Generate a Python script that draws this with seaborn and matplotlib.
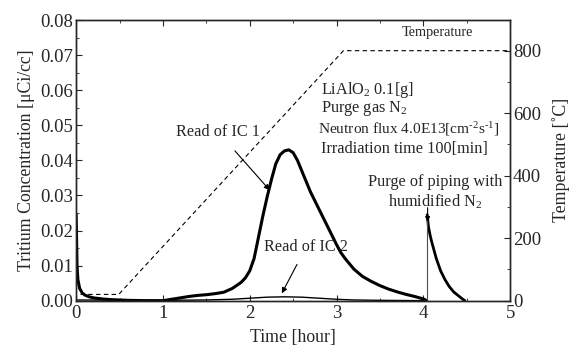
import numpy as np
import pandas as pd
import matplotlib
matplotlib.use("Agg")
import matplotlib.pyplot as plt
import seaborn as sns

# Values
ic1_time = [0.0, 0.01, 0.02, 0.04, 0.07, 0.1, 0.15, 0.2, 0.3, 0.4, 0.5, 0.6, 0.8, 1.0,
            1.1, 1.2, 1.3, 1.4, 1.5, 1.6, 1.7, 1.8, 1.9, 1.95, 2.0, 2.05, 2.1, 2.15,
            2.2, 2.25, 2.3, 2.35, 2.4, 2.45, 2.5, 2.55, 2.6, 2.65, 2.7, 2.75, 2.8,
            2.85, 2.9, 2.95, 3.0, 3.05, 3.1, 3.15, 3.2, 3.3, 3.4, 3.5, 3.6, 3.7,
            3.8, 3.9, 4.0, 4.04]
ic1_conc = [0.0245, 0.010, 0.006, 0.0035, 0.0022, 0.0016, 0.0011, 0.0008, 0.0005,
            0.0003, 0.0002, 0.0001, 0.0, 0.0, 0.0004, 0.0008, 0.0012, 0.0015,
            0.0017, 0.0020, 0.0024, 0.0035, 0.0052, 0.0065, 0.0085, 0.012, 0.018,
            0.024, 0.0295, 0.0345, 0.0390, 0.0416, 0.0427, 0.0430, 0.0422, 0.0400,
            0.0370, 0.0340, 0.0310, 0.0285, 0.0260, 0.0235, 0.0210, 0.0185, 0.0160,
            0.0137, 0.0120, 0.0105, 0.0090, 0.0069, 0.0055, 0.0043, 0.0033, 0.0025,
            0.0018, 0.0012, 0.0005, 0.0]

purge_time = [4.045, 4.06, 4.08, 4.1, 4.15, 4.2, 4.25, 4.3, 4.35, 4.4, 4.45, 4.48]
purge_conc = [0.0245, 0.021, 0.0185, 0.0165, 0.0120, 0.0085, 0.0060, 0.0040,
              0.0025, 0.0015, 0.0005, 0.0]

ic2_time = [0.0, 1.0, 1.5, 1.8, 2.0, 2.2, 2.4, 2.6, 2.8, 3.0, 3.2, 3.5, 4.0]
ic2_conc = [0.0002, 0.0001, 0.0002, 0.0004, 0.0007, 0.0010, 0.0011, 0.0010,
            0.0007, 0.0004, 0.0002, 0.0001, 0.0]

temp_time = [0.05, 0.49, 3.08, 5.0]
temp_val = [20, 20, 800, 800]

sns.set_style("ticks")
plt.rcParams['font.family'] = ['Liberation Serif', 'DejaVu Serif']
plt.rcParams['mathtext.fontset'] = 'custom'
plt.rcParams['mathtext.rm'] = 'Liberation Serif'
plt.rcParams['mathtext.it'] = 'Liberation Serif:italic'

fig = plt.figure(figsize=(5.77, 3.46), dpi=100)
ax = fig.add_axes([0.132, 0.131, 0.752, 0.811])
ax2 = ax.twinx()

ic1 = pd.DataFrame({'t': ic1_time, 'c': ic1_conc})
ic2 = pd.DataFrame({'t': ic2_time, 'c': ic2_conc})
purge = pd.DataFrame({'t': purge_time, 'c': purge_conc})
temp = pd.DataFrame({'t': temp_time, 'T': temp_val})

sns.lineplot(data=ic1, x='t', y='c', ax=ax, color='black', lw=2.2, sort=False)
sns.lineplot(data=ic2, x='t', y='c', ax=ax, color='black', lw=1.0, sort=False)
sns.lineplot(data=purge, x='t', y='c', ax=ax, color='black', lw=2.0, sort=False)
ax.vlines(purge_time[0] - 0.005, 0, purge_conc[0], color='0.3', lw=0.8)
sns.lineplot(data=temp, x='t', y='T', ax=ax2, color='black', lw=0.8,
             linestyle=(0, (4, 3)), sort=False)

ax.set_xlim(0, 5)
ax.set_ylim(0, 0.08)
ax2.set_ylim(0, 898)
ax.set_xticks([0, 1, 2, 3, 4, 5])
ax.set_xticks(np.arange(0.5, 5, 1), minor=True)
ax.set_yticks(np.arange(0, 0.081, 0.01))
ax.set_yticklabels([f'{v:.2f}' for v in np.arange(0, 0.081, 0.01)])
ax.set_yticks(np.arange(0.005, 0.08, 0.01), minor=True)
ax2.set_yticks([0, 200, 400, 600, 800])
ax2.set_yticks([100, 300, 500, 700], minor=True)

for a in (ax, ax2):
    a.tick_params(which='both', direction='in', labelsize=13.5, top=True)
    a.tick_params(which='major', length=4, width=0.8)
    a.tick_params(which='minor', length=2.5, width=0.6)
    for s in a.spines.values():
        s.set_linewidth(1.0)
ax.tick_params(axis='y', right=False, pad=2)
ax.tick_params(axis='x', pad=3)
ax2.tick_params(axis='y', pad=2)

ax.set_xlabel('Time [hour]', fontsize=12.8, labelpad=5)
ax.set_ylabel('Tritium Concentration [μCi/cc]', fontsize=12.8, labelpad=4)
ax2.set_ylabel('Temperature [˚C]', fontsize=12.8, labelpad=8)

# annotations
ax2.text(4.16, 857, 'Temperature', fontsize=10.3, ha='center', va='center')
ax.text(2.82, 0.0600, r'LiAlO$_2$ 0.1[g]', fontsize=11.7, va='center')
ax.text(2.82, 0.0548, r'Purge gas N$_2$', fontsize=11.7, va='center')
ax.text(2.79, 0.0488, r'Neutron flux 4.0E13[cm$^{\text{-2}}$s$^{\text{-1}}$]',
        fontsize=11.1, va='center')
ax.text(2.82, 0.0433, 'Irradiation time 100[min]', fontsize=11.7, va='center')
ax.text(4.14, 0.0337, 'Purge of piping with', fontsize=11.7, ha='center', va='center')
ax.text(4.14, 0.0282, r'humidified N$_2$', fontsize=11.7, ha='center', va='center')
ax.annotate('', xy=(4.05, 0.0225), xytext=(4.05, 0.0265),
            arrowprops=dict(arrowstyle='-|>', color='black', lw=0.8,
                            mutation_scale=7, shrinkA=0, shrinkB=0))
ax.annotate('Read of IC 1', xy=(2.23, 0.0315), xytext=(1.64, 0.0480),
            fontsize=11.7, ha='center', va='center',
            arrowprops=dict(arrowstyle='-|>', color='black', lw=0.8,
                            mutation_scale=8, shrinkA=7, shrinkB=0))
ax.annotate('Read of IC 2', xy=(2.37, 0.0021), xytext=(2.65, 0.0153),
            fontsize=11.7, ha='center', va='center',
            arrowprops=dict(arrowstyle='-|>', color='black', lw=0.8,
                            mutation_scale=8, shrinkA=5, shrinkB=0))

fig.savefig('out.png', dpi=100)
